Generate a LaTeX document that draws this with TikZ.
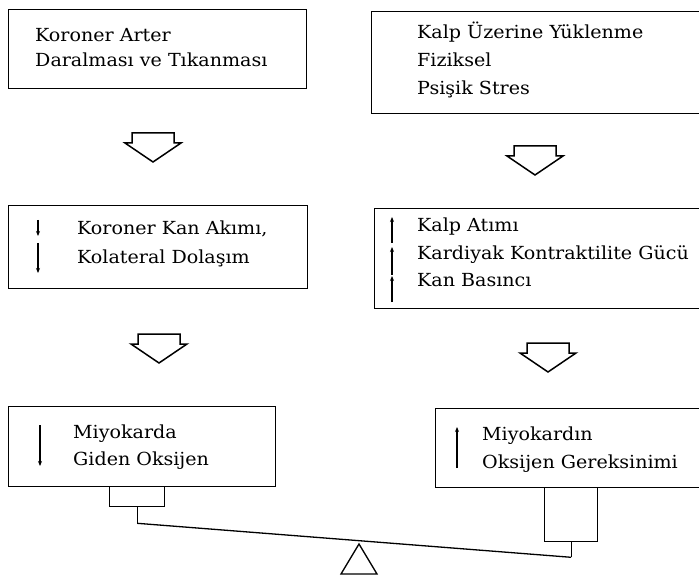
\documentclass[tikz,border=0pt]{standalone}
\usepackage{fontspec}
\setmainfont[FakeStretch=1.06]{DejaVu Serif}
\usetikzlibrary{arrows.meta}
\begin{document}
\begin{tikzpicture}[x=1pt,y=-1pt,
  box/.style={draw, line width=1.1pt, rectangle, inner sep=0pt, anchor=north west},
  weight/.style={draw, line width=1.3pt, rectangle, inner sep=0pt, anchor=north west},
  lbl/.style={anchor=base west, inner sep=0pt, font=\fontsize{18}{21}\selectfont},
  tarrow/.style={line width=1.3pt, -{Stealth[length=5pt,width=4pt]}},
  beam/.style={line width=1.3pt},
  hollow/.pic={\draw[line width=1.5pt, line join=miter]
     (-21,0) -- (21,0) -- (21,10) -- (28,10) -- (0,29) -- (-28,10) -- (-21,10) -- cycle;}]
\useasboundingbox (0,0) rectangle (699,580);
\clip (0,0) rectangle (699,580);
% boxes
\node[box, minimum width=298pt, minimum height=79pt] (b1) at (8,9) {};
\node[box, minimum width=400pt, minimum height=102pt] (b2) at (371,11) {};
\node[box, minimum width=299pt, minimum height=83pt] (b3) at (8,205) {};
\node[box, minimum width=400pt, minimum height=100pt] (b4) at (374,208) {};
\node[box, minimum width=267pt, minimum height=80pt] (b5) at (8,406) {};
\node[box, minimum width=400pt, minimum height=79pt] (b6) at (435,408) {};
% texts
\node[lbl] (t1a) at (35,42) {Koroner Arter};
\node[lbl] (t1b) at (35,67) {Daralması ve Tıkanması};
\node[lbl] (t2a) at (417,39) {Kalp Üzerine Yüklenme};
\node[lbl] (t2b) at (417,67) {Fiziksel};
\node[lbl] (t2c) at (417,95) {Psişik Stres};
\node[lbl] (t3a) at (77,235) {Koroner Kan Akımı,};
\node[lbl] (t3b) at (77,264) {Kolateral Dolaşım};
\node[lbl] (t4a) at (417,232) {Kalp Atımı};
\node[lbl] (t4b) at (417,260) {Kardiyak Kontraktilite Gücü};
\node[lbl] (t4c) at (417,287) {Kan Basıncı};
\node[lbl] (t5a) at (73,438) {Miyokarda};
\node[lbl] (t5b) at (73,465) {Giden Oksijen};
\node[lbl] (t6a) at (482,440) {Miyokardın};
\node[lbl] (t6b) at (482,468) {Oksijen Gereksinimi};
% small arrows
\draw[tarrow] (38,220) -- (38,236);
\draw[tarrow] (38,243) -- (38,273);
\draw[tarrow] (392,243) -- (392,217);
\draw[tarrow] (392,275) -- (392,247);
\draw[tarrow] (392,302) -- (392,276);
\draw[tarrow] (40,425) -- (40,466);
\draw[tarrow] (457,468) -- (457,427);
% hollow arrows
\pic at (153,133) {hollow};
\pic at (535,146) {hollow};
\pic at (159,334) {hollow};
\pic at (548,343) {hollow};
% balance
\node[weight, minimum width=55pt, minimum height=20pt] (w1) at (109,486) {};
\node[weight, minimum width=53pt, minimum height=54pt] (w2) at (544,487) {};
\draw[beam] (w1.south) -- ++(0,16) coordinate (e1);
\draw[beam] (w2.south) -- ++(0,15) coordinate (e2);
\draw[beam] (e1) -- (e2);
\coordinate (apex) at (359,544);
\draw[beam, line join=miter] (apex) -- (341,574) -- (377,574) -- cycle;
\end{tikzpicture}
\end{document}
